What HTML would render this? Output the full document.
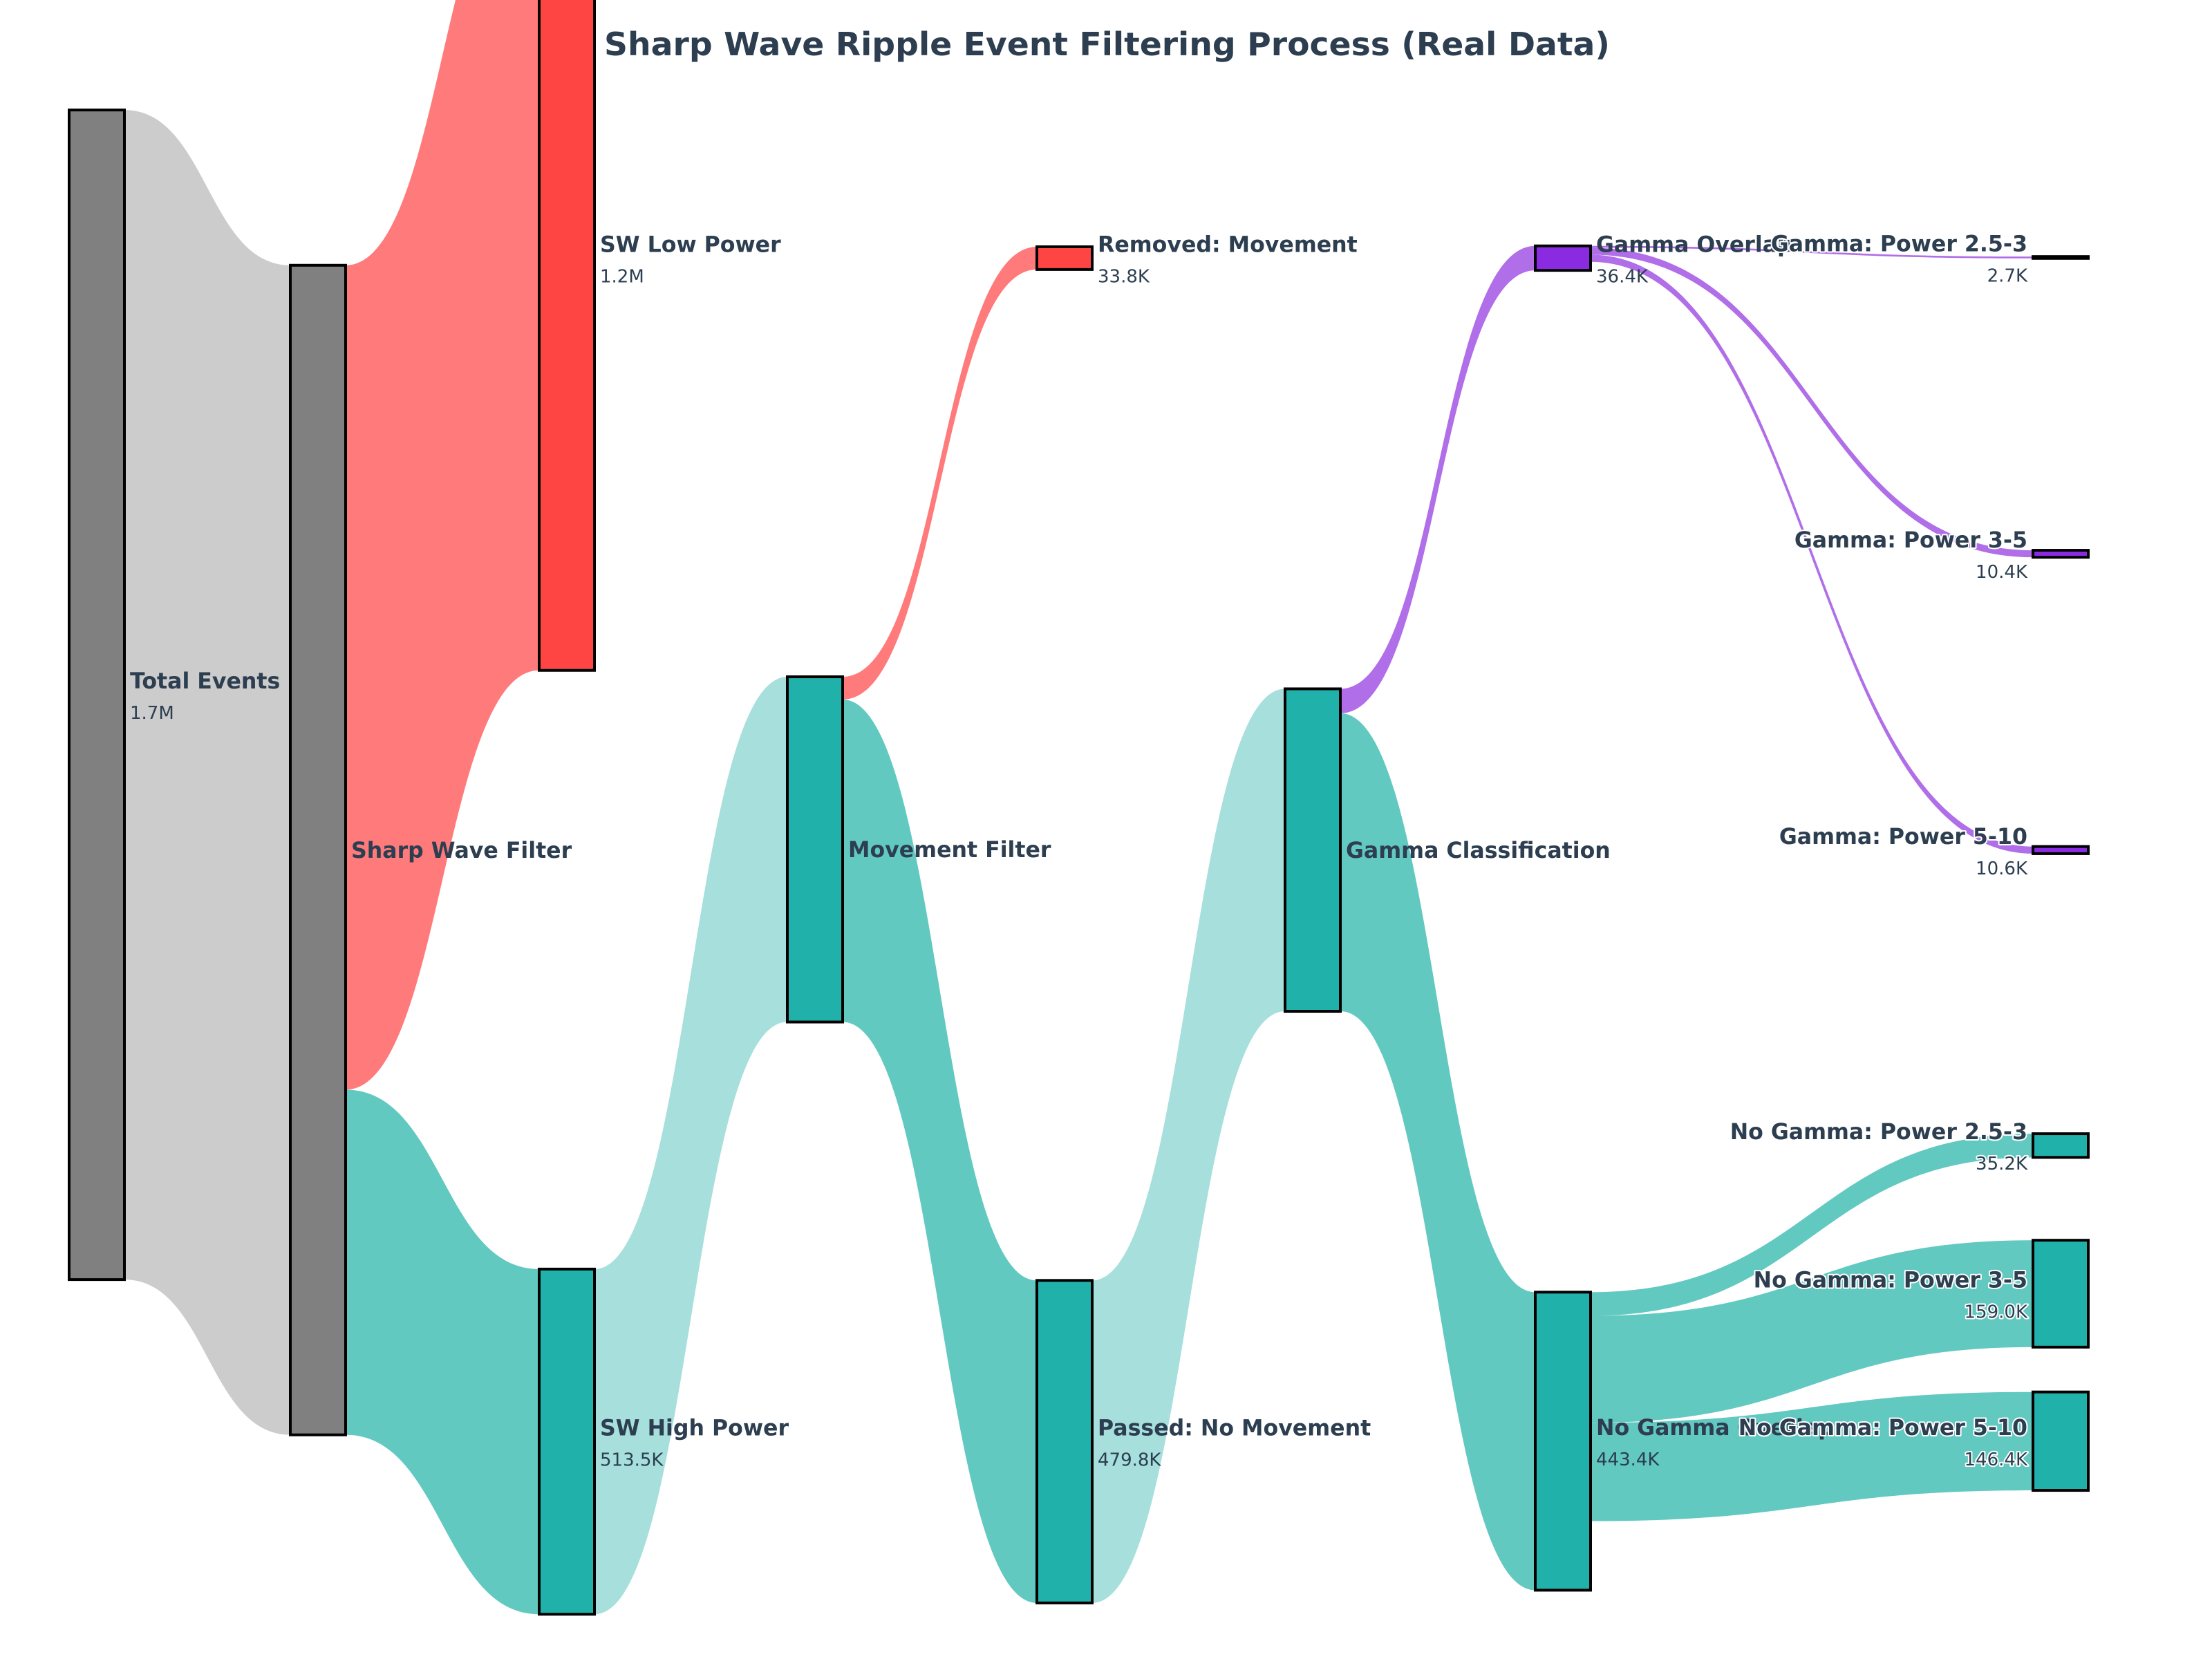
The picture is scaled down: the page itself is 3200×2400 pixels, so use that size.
<!DOCTYPE html>
<html><head><meta charset="utf-8"><style>
html,body{margin:0;padding:0;background:#fff}
svg{display:block}
text{font-family:"DejaVu Sans","Liberation Sans",sans-serif;fill:#2c3e50}
.nm{font-weight:bold;font-size:31.6px}
.vl{font-size:26px}
.halo{paint-order:stroke;stroke:#fff;stroke-width:4px;stroke-linejoin:round}
</style></head><body>
<svg id="chart" width="3200" height="2400" viewBox="0 0 3200 2400" xmlns="http://www.w3.org/2000/svg">
<g id="links"></g>
<g id="nodes"></g>
<g id="labels"></g>
<text x="874" y="80" textLength="1455" lengthAdjust="spacingAndGlyphs" style="font-weight:bold;font-size:46px">Sharp Wave Ripple Event Filtering Process (Real Data)</text>
</svg>
<script>
// node data
const nodeNames = ["Total Events","Sharp Wave Filter","SW Low Power","SW High Power","Movement Filter","Removed: Movement","Passed: No Movement","Gamma Classification","Gamma Overlap","No Gamma Overlap","Gamma: Power 2.5-3","Gamma: Power 3-5","Gamma: Power 5-10","No Gamma: Power 2.5-3","No Gamma: Power 3-5","No Gamma: Power 5-10"];
const nodeLabels = ["1.7M","","1.2M","513.5K","","33.8K","479.8K","","36.4K","443.4K","2.7K","10.4K","10.6K","35.2K","159.0K","146.4K"];
const nodeColors = ["#808080","#808080","#ff4444","#20b2aa","#20b2aa","#ff4444","#20b2aa","#20b2aa","#8a2be2","#20b2aa","#8a2be2","#8a2be2","#8a2be2","#20b2aa","#20b2aa","#20b2aa"];
// link data (values in thousands)
const linkSource = [0,1,1,3,4,4,6,7,7,8,8,8,9,9,9];
const linkTarget = [1,2,3,4,5,6,7,8,9,10,11,12,13,14,15];
const linkValues = [1740,1226.5,513.5,513.5,33.8,479.8,479.8,36.4,443.4,2.7,10.4,10.6,35.2,159.0,146.4];
const linkColors = ["#cccccc","#ff7b7b","#62c9c1","#a6dfdc","#ff7b7b","#62c9c1","#a6dfdc","#b06ee8","#62c9c1","#b06ee8","#b06ee8","#b06ee8","#62c9c1","#62c9c1","#62c9c1"];
// layout (column index and relative vertical center, fraction of height)
const nodeColumn = [0,1,2,2,3,4,4,5,6,6,7,7,7,7,7,7];
const nodeCenter = [0.4188,0.5124,0.1556,0.8690,0.5120,0.1556,0.8690,0.5124,0.1556,0.8687,0.1552,0.3338,0.5124,0.6905,0.7798,0.8687];

const svg = document.getElementById('chart');
const NS = 'http://www.w3.org/2000/svg';
const H = 2400, NW = 80;
const colX = [100,420,780,1139,1500,1859,2221,2941];
const k = 0.9724; // px per thousand
const xPos = c => colX[c];
const yCenter = f => f * H;

const inV = nodeNames.map(()=>0), outV = nodeNames.map(()=>0);
linkValues.forEach((v,i)=>{outV[linkSource[i]]+=v; inV[linkTarget[i]]+=v;});
const nodes = nodeNames.map((n,i)=>{
  const v = Math.max(inV[i],outV[i]);
  const h = v*k;
  return {x:xPos(nodeColumn[i]), y:yCenter(nodeCenter[i])-h/2, h:h, so:0, to:0};
});

const order = linkValues.map((v,i)=>i).sort((a,b)=>nodes[linkTarget[a]].y-nodes[linkTarget[b]].y);
const lg = document.getElementById('links');
order.forEach(i=>{
  const s = nodes[linkSource[i]], t = nodes[linkTarget[i]];
  const w = linkValues[i]*k;
  const y0 = s.y + s.so, y1 = t.y + t.to;
  s.so += w; t.to += w;
  const x0 = s.x+NW, x1 = t.x, xm = (x0+x1)/2;
  const d = `M${x0},${y0} C${xm},${y0} ${xm},${y1} ${x1},${y1} L${x1},${y1+w} C${xm},${y1+w} ${xm},${y0+w} ${x0},${y0+w} Z`;
  const p = document.createElementNS(NS,'path');
  p.setAttribute('d',d); p.setAttribute('fill',linkColors[i]);
  
  
  lg.appendChild(p);
});

const ng = document.getElementById('nodes'), tg = document.getElementById('labels');
const slug = s => s.toLowerCase().replace(/[^a-z0-9]+/g,'-').replace(/-$/,'');
nodes.forEach((n,i)=>{
  const r = document.createElementNS(NS,'rect');
  r.setAttribute('x',n.x); r.setAttribute('y',n.y);
  r.setAttribute('width',NW); r.setAttribute('height',Math.max(n.h,1));
  r.setAttribute('fill',nodeColors[i]); r.setAttribute('stroke','#000'); r.setAttribute('stroke-width','4');
  
  
  ng.appendChild(r);
});
const idx = nodes.map((n,i)=>i).sort((a,b)=>(nodeColumn[a]===7)-(nodeColumn[b]===7));
idx.forEach(i=>{
  const n = nodes[i], last = nodeColumn[i]===7;
  const cy = n.y + n.h/2;
  const lx = last ? n.x-8 : n.x+NW+8;
  const t1 = document.createElementNS(NS,'text');
  t1.setAttribute('x',lx); t1.setAttribute('y', nodeLabels[i] ? cy-9 : cy+11);
  t1.setAttribute('class','nm'+(last?' halo':''));
  if(last) t1.setAttribute('text-anchor','end');
  t1.textContent = nodeNames[i];
  
  
  tg.appendChild(t1);
  if(nodeLabels[i]){
    const t2 = document.createElementNS(NS,'text');
    t2.setAttribute('x',lx); t2.setAttribute('y',cy+35);
    t2.setAttribute('class','vl'+(last?' halo':''));
    if(last) t2.setAttribute('text-anchor','end');
    t2.textContent = nodeLabels[i];
    
    
    tg.appendChild(t2);
  }
});
</script>
</body></html>
